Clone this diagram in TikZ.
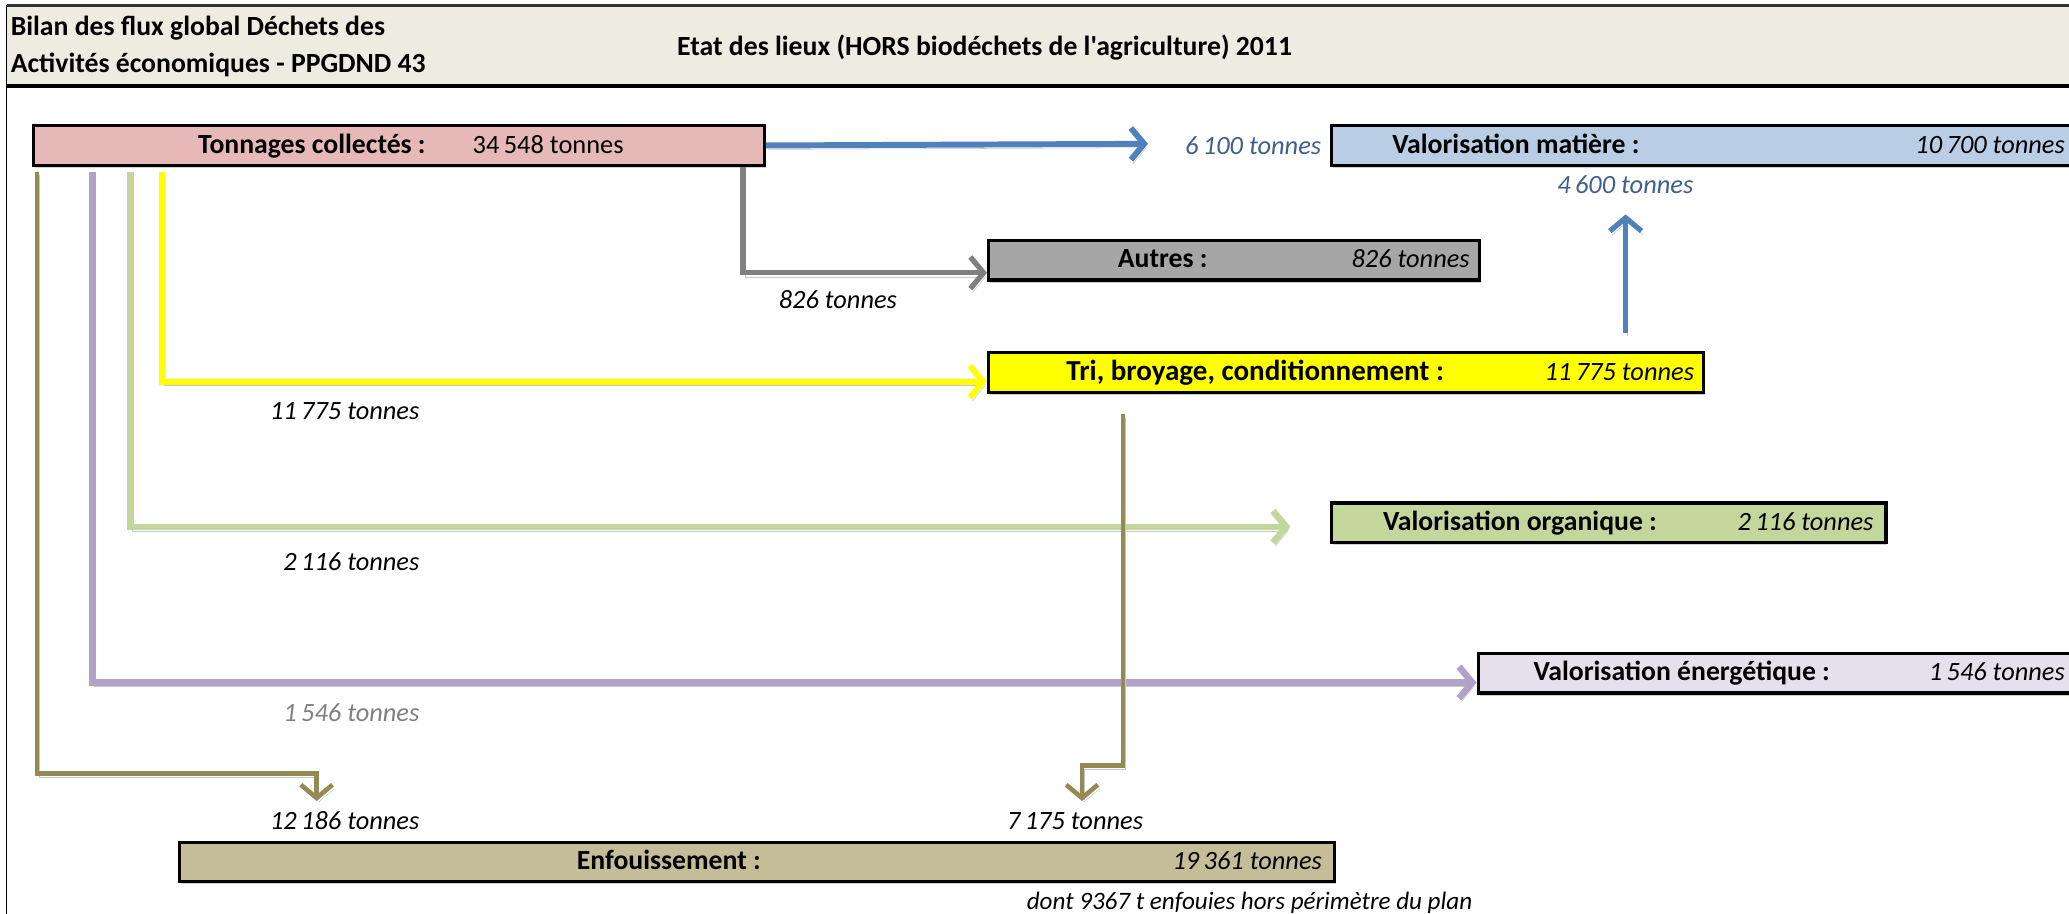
\documentclass[tikz,border=0pt]{standalone}
\usepackage{fontspec}
\setmainfont{Carlito}
\newfontfamily\plainfont{Carlito}
\usetikzlibrary{arrows.meta,shadows}
\definecolor{hdr}{HTML}{EEECE1}
\definecolor{cTon}{HTML}{E6B9B8}
\definecolor{cVm}{HTML}{B9CDE5}
\definecolor{cAut}{HTML}{A6A6A6}
\definecolor{cTri}{HTML}{FFFF00}
\definecolor{cOrg}{HTML}{C3D69B}
\definecolor{cEne}{HTML}{E6E0EC}
\definecolor{cEnf}{HTML}{C4BD97}
\definecolor{lBlue}{HTML}{4F81BD}
\definecolor{lGray}{HTML}{808080}
\definecolor{lYel}{HTML}{FFFF00}
\definecolor{lGreen}{HTML}{C3D69B}
\definecolor{lPurp}{HTML}{B3A2C7}
\definecolor{lOlive}{HTML}{948A54}
\definecolor{tBlue}{HTML}{3E5F8F}
\tikzset{
  box/.style={draw=black, line width=2.5pt, anchor=north west, inner sep=0pt, minimum height=30pt,
    drop shadow={shadow xshift=1pt, shadow yshift=-2pt, opacity=0.35}},
  bl/.style={font=\fontsize{21}{25}\selectfont\bfseries, inner sep=0pt, anchor=base west},
  vl/.style={font=\fontsize{20}{24}\selectfont\itshape, inner sep=0pt, anchor=base east},
  lab/.style={font=\fontsize{20}{24}\selectfont\itshape, inner sep=0pt},
  hd/.style={font=\fontsize{21}{25}\selectfont\bfseries, inner sep=0pt, anchor=base west},
  flow/.style={line width=4.5pt, -{Straight Barb[length=10pt,width=24pt]},
    preaction={draw=black!22, transform canvas={shift={(1.5pt,-3pt)}}}},
}
\begin{document}
\begin{tikzpicture}[x=1pt,y=-1pt]
\useasboundingbox (0,0) rectangle (1568,692);
\clip (0,0) rectangle (1568,692);
\fill[white] (0,0) rectangle (1568,692);
% header
\fill[hdr] (5,4) rectangle (1575,65);
\draw[line width=1pt] (5,700) -- (5,4);
\draw[line width=2pt, black!80] (5,4) -- (1575,4);
\draw[line width=3pt] (5,65) -- (1575,65);
\node[hd] (h1) at (8,27) {Bilan des flux global Déchets des};
\node[hd] (h2) at (8,55) {Activités économiques - PPGDND 43};
\node[hd, font=\plainfont\fontsize{21}{25}\selectfont\bfseries] (h3) at (513,42) {Etat des lieux (HORS biodéchets de l'agriculture) 2011};
% boxes
\node[box, fill=cTon, minimum width=554pt] (ton) at (24,94) {};
\node[box, fill=cVm, minimum width=570pt] (vm) at (1008,94) {};
\node[box, fill=cAut, minimum width=372pt] (aut) at (748,181) {};
\node[box, fill=cTri, minimum width=542pt] (tri) at (748,266) {};
\node[box, fill=cOrg, minimum width=420pt] (org) at (1008,380) {};
\node[box, fill=cEne, minimum width=459pt] (ene) at (1119,494) {};
\node[box, fill=cEnf, minimum width=875pt] (enf) at (135,637) {};
% box texts
\node[bl] (tonL) at (150,116) {Tonnages collectés :};
\node[font=\fontsize{20}{24}\selectfont, inner sep=0pt, anchor=base west] (tonV) at (358,116) {34\,548 tonnes};
\node[bl] (vmL) at (1055,116) {Valorisation matière :};
\node[vl] (vmV) at (1565,116) {10\,700 tonnes};
\node[bl] (autL) at (847,202.5) {Autres :};
\node[vl] (autV) at (1114,202.5) {826 tonnes};
\node[bl, font=\fontsize{22}{26}\selectfont\bfseries] (triL) at (808,288) {Tri, broyage, conditionnement :};
\node[vl] (triV) at (1284,288) {11\,775 tonnes};
\node[bl] (orgL) at (1048,402) {Valorisation organique :};
\node[vl] (orgV) at (1420,402) {2\,116 tonnes};
\node[bl] (eneL) at (1162,516) {Valorisation énergétique :};
\node[vl] (eneV) at (1565,516) {1\,546 tonnes};
\node[bl] (enfL) at (437,659) {Enfouissement :};
\node[vl] (enfV) at (1002,659) {19\,361 tonnes};
% coordinates
\coordinate (bEnd) at (870,109);
\coordinate (gx) at (563,0);
\coordinate (ys) at (123,130);
\coordinate (gs) at (99,130);
\coordinate (ps) at (70,130);
\coordinate (os) at (28,130);
\coordinate (o1) at (240,586);
\coordinate (t0) at (851,314);
\coordinate (t1) at (820,580);
\coordinate (bu) at (1232,0);
% connectors
\draw[flow, lBlue] (ton.east) -- (bEnd);
\draw[flow, lGray, line width=4pt] (ton.south -| gx) |- ([yshift=-9.5pt]aut.west);
\draw[flow, lYel] (ys) |- ([yshift=-7pt]tri.west);
\draw[flow, lGreen, line width=5pt] (gs) |- ([xshift=-30pt,yshift=-3pt]org.west);
\draw[flow, lPurp, line width=5pt] (ps) |- ([yshift=-7pt]ene.west);
\draw[flow, lOlive, line width=3.5pt] (os) |- (o1) -- ([yshift=30pt]enf.north -| o1);
\draw[flow, lOlive, line width=3.5pt] (t0) |- (t1) -- ([yshift=30pt]enf.north -| t1);
\draw[flow, lBlue, line width=4pt] ([yshift=14pt]tri.north -| bu) -- ([yshift=-36pt]vm.south -| bu);
% flow labels
\node[lab, text=tBlue, anchor=base west] (l6100) at (898,117) {6\,100 tonnes};
\node[lab, text=tBlue, anchor=base west] (l4600) at (1180,147) {4\,600 tonnes};
\node[lab, anchor=base west] (l826) at (590,234) {826 tonnes};
\node[lab, anchor=base east] (l11775) at (318,318) {11\,775 tonnes};
\node[lab, anchor=base east] (l2116) at (318,432) {2\,116 tonnes};
\node[lab, text=lGray, anchor=base east] (l1546) at (318,547) {1\,546 tonnes};
\node[lab, anchor=base east] (l12186) at (318,629) {12\,186 tonnes};
\node[lab, anchor=base west] (l7175) at (763,629) {7\,175 tonnes};
\node[lab, font=\fontsize{19}{22}\selectfont\itshape, anchor=base west] (dont) at (778,689) {dont 9367 t enfouies hors périmètre du plan};
\end{tikzpicture}
\end{document}
